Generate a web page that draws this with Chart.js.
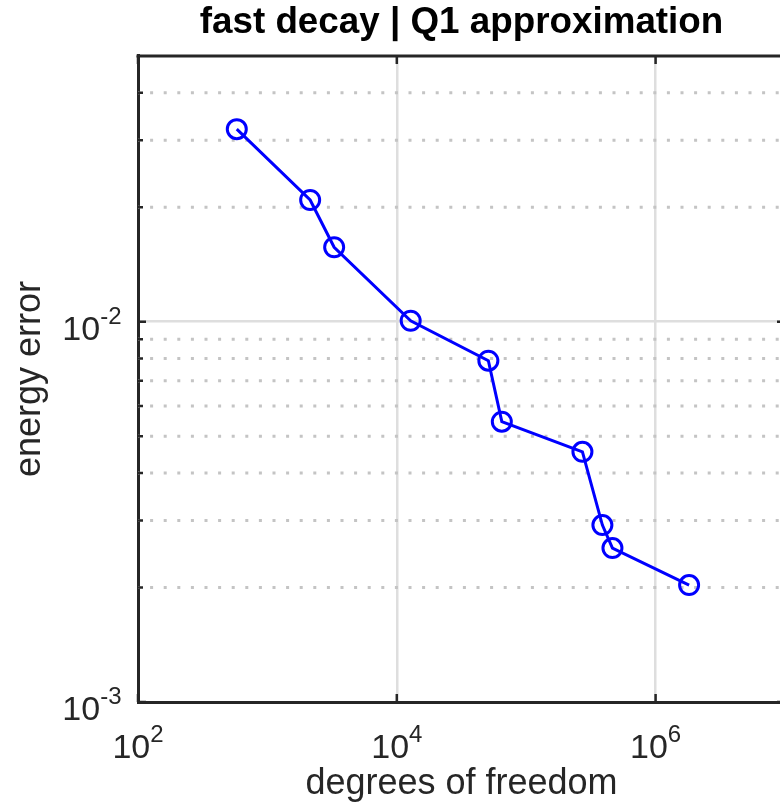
<!DOCTYPE html>
<html>
<head>
<meta charset="utf-8">
<script src="https://cdn.jsdelivr.net/npm/chart.js@4"></script>
<style>
  html, body { margin: 0; padding: 0; overflow: hidden; background: #fff; }
  #wrap { width: 790px; height: 808px; }
</style>
</head>
<body>
<div id="wrap"><canvas id="myChart" width="790" height="808"></canvas></div>
<script>
// values (log-log)
const dofs = [580, 2140, 3280, 12800, 51000, 64800, 272000, 388000, 464000, 1815000];
const errors = [0.0321, 0.0209, 0.0157, 0.01006, 0.0079, 0.00546, 0.00455, 0.00292, 0.00254, 0.00203];

const xTicks = [1e2, 1e4, 1e6];
const yTicks = [1e-3, 1e-2];
const yMinorTicks = [2e-3, 3e-3, 4e-3, 5e-3, 6e-3, 7e-3, 8e-3, 9e-3, 2e-2, 3e-2, 4e-2];

const FONT = "'Liberation Sans', Arial, Helvetica, sans-serif";
const AXIS = '#262626';

// draws "10" with a raised exponent, like MATLAB log tick labels
function drawPow(ctx, value, x, baseline, align) {
    const exp = String(Math.round(Math.log10(value)));
    ctx.font = '34px ' + FONT;
    const w1 = ctx.measureText('10').width;
    ctx.font = '24px ' + FONT;
    const w2 = ctx.measureText(exp).width;
    const left = align === 'right' ? x - w1 - w2 : x - (w1 + w2) / 2;
    ctx.textAlign = 'left';
    ctx.textBaseline = 'alphabetic';
    ctx.font = '34px ' + FONT;
    ctx.fillText('10', left, baseline);
    ctx.font = '24px ' + FONT;
    ctx.fillText(exp, left + w1, baseline - 16);
}

const matlabAxes = {
    id: 'matlabAxes',
    beforeDatasetsDraw(chart) {
        const {ctx, chartArea: a, scales: {y}} = chart;
        ctx.save();
        ctx.beginPath();
        ctx.rect(a.left, a.top, a.right - a.left, a.bottom - a.top);
        ctx.clip();
        ctx.strokeStyle = '#c4c4c4';
        ctx.lineWidth = 3;
        ctx.setLineDash([3, 10.6]);
        yMinorTicks.forEach(v => {
            const py = y.getPixelForValue(v);
            ctx.beginPath();
            ctx.moveTo(a.left - 1.5, py);
            ctx.lineTo(a.right, py);
            ctx.stroke();
        });
        ctx.restore();
    },
    afterDraw(chart) {
        const {ctx, chartArea: a, scales: {x, y}} = chart;
        ctx.save();
        ctx.strokeStyle = AXIS;
        ctx.lineWidth = 3;
        // top and right edges of the box
        ctx.beginPath();
        ctx.moveTo(a.left - 1.5, a.top);
        ctx.lineTo(a.right + 1.5, a.top);
        ctx.moveTo(a.right, a.top);
        ctx.lineTo(a.right, a.bottom);
        ctx.stroke();

        // inward tick marks
        ctx.lineWidth = 2.5;
        ctx.beginPath();
        xTicks.forEach(v => {
            const px = x.getPixelForValue(v);
            ctx.moveTo(px, a.bottom); ctx.lineTo(px, a.bottom - 8);
            ctx.moveTo(px, a.top); ctx.lineTo(px, a.top + 8);
        });
        yTicks.forEach(v => {
            const py = y.getPixelForValue(v);
            ctx.moveTo(a.left, py); ctx.lineTo(a.left + 8, py);
            ctx.moveTo(a.right, py); ctx.lineTo(a.right - 8, py);
        });
        yMinorTicks.forEach(v => {
            const py = y.getPixelForValue(v);
            ctx.moveTo(a.left, py); ctx.lineTo(a.left + 5, py);
            ctx.moveTo(a.right, py); ctx.lineTo(a.right - 5, py);
        });
        ctx.stroke();

        // tick labels
        ctx.fillStyle = AXIS;
        xTicks.forEach(v => drawPow(ctx, v, x.getPixelForValue(v), a.bottom + 56, 'center'));
        yTicks.forEach(v => drawPow(ctx, v, 121.5, y.getPixelForValue(v) + 18, 'right'));
        ctx.restore();
    }
};

new Chart(document.getElementById('myChart'), {
    type: 'line',
    data: {
        datasets: [{
            data: dofs.map((d, i) => ({x: d, y: errors[i]})),
            borderColor: '#0000ff',
            borderWidth: 3,
            pointStyle: 'circle',
            pointRadius: 9.5,
            pointBorderWidth: 3,
            pointBorderColor: '#0000ff',
            pointBackgroundColor: 'rgba(0,0,0,0)',
            tension: 0,
            clip: false
        }]
    },
    options: {
        responsive: false,
        animation: false,
        // the right edge of the axes box lies just past the window, as in the reference
        layout: { autoPadding: false, padding: { left: 0, right: 5, top: 0, bottom: 0 } },
        plugins: {
            legend: { display: false },
            tooltip: { enabled: false },
            title: {
                display: true,
                text: 'fast decay | Q1 approximation',
                fullSize: false,
                color: '#000',
                font: { family: FONT, size: 36.8, weight: 'bold', lineHeight: 1.2 },
                padding: { top: 0.5, bottom: 11.3 }
            }
        },
        scales: {
            x: {
                type: 'logarithmic',
                min: 1e2,
                max: 1e7,
                afterBuildTicks: scale => { scale.ticks = xTicks.map(v => ({value: v})); },
                afterFit: scale => { scale.height = 106; },
                ticks: { display: false },
                grid: { color: '#dedede', lineWidth: 2.5, drawTicks: false },
                border: { display: true, color: AXIS, width: 3 },
                title: {
                    display: true,
                    text: 'degrees of freedom',
                    color: AXIS,
                    font: { family: FONT, size: 36, lineHeight: 1.2 },
                    padding: { top: 0, bottom: 2 }
                }
            },
            y: {
                type: 'logarithmic',
                min: 1e-3,
                max: 5e-2,
                afterBuildTicks: scale => { scale.ticks = yTicks.map(v => ({value: v})); },
                afterFit: scale => { scale.width = 138; },
                ticks: { display: false },
                grid: { color: '#dedede', lineWidth: 2.5, drawTicks: false },
                border: { display: true, color: AXIS, width: 3 },
                title: {
                    display: true,
                    text: 'energy error',
                    color: AXIS,
                    font: { family: FONT, size: 36, lineHeight: 1.2 },
                    padding: { top: 8, bottom: 0 }
                }
            }
        }
    },
    plugins: [matlabAxes]
});
</script>
</body>
</html>
